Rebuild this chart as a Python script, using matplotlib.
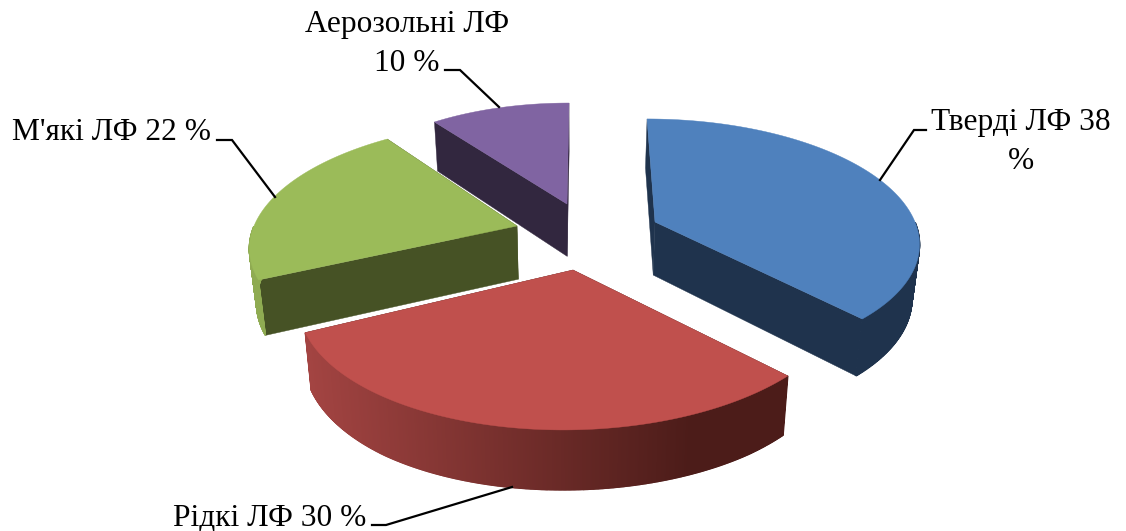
import numpy as np
import matplotlib
matplotlib.use('Agg')
import matplotlib.pyplot as plt
from matplotlib.colors import to_rgb

# shares in the order they go round the pie, clockwise from the top
labels = ["Тверді ЛФ 38\n%", "Рідкі ЛФ 30 %", "М'які ЛФ 22 %", "Аерозольні ЛФ\n10 %"]
shares = [38, 30, 22, 10]

top_colors = ['#4F81BD', '#C0504D', '#9BBB59', '#8064A2']
cut_colors = ['#1F334D', '#4F1F1C', '#465225', '#32273F']
rim_left = ['#1F334D', '#A34442', '#8FAB52', '#32273F']
rim_right = ['#1F334D', '#4C1C19', '#8FAB52', '#32273F']

# apex position in pixels and the projection of each exploded slice
apex_x = [655, 573, 517, 567]
apex_y = [222, 270, 226, 204]
rad_x = [260, 268, 263, 232]
rad_y = [118.5, 126, 119.4, 103]
persp = [0.15, 0.212, 0.137, 0.02]
skew = [0.077, -0.02, -0.108, -0.02]
tilt = [0, -4, 0, 0]
center_x = 575


def ring(i, theta):
    # point on the upper rim of slice i, theta in degrees clockwise from top
    t = np.radians(theta)
    X = np.sin(t)
    Y = -np.cos(t)
    w = 1 - persp[i] * Y
    dy = rad_y[i] * Y / w
    x = apex_x[i] + rad_x[i] * X / w + skew[i] * dy
    return x, apex_y[i] + dy + tilt[i] * X


def drop(x, y):
    # same point moved down to the lower face of the pie
    d = np.minimum(49 + 0.04 * (y - 120), 60)
    return center_x + (x - center_x) * 0.978, y + d


fig = plt.figure(figsize=(11.26, 5.31), dpi=100)
ax = fig.add_axes([0, 0, 1, 1])
ax.set_xlim(0, 1126)
ax.set_ylim(531, 0)
ax.axis('off')

edges = np.cumsum([0] + shares) * 3.6
order = [3, 2, 0, 1]
for z, i in enumerate(order):
    th = np.linspace(edges[i], edges[i + 1], 500)
    x, y = ring(i, th)
    xb, yb = drop(x, y)
    ax0, ay0 = apex_x[i], apex_y[i]
    bx0, by0 = drop(np.array(float(ax0)), np.array(float(ay0)))

    # white halo round the whole slice
    ax.fill(np.r_[ax0, x, xb[::-1], bx0], np.r_[ay0, y, yb[::-1], by0],
            color='white', lw=2, zorder=z + 1)

    # the two cut faces
    for k in [0, -1]:
        ax.fill([ax0, x[k], xb[k], bx0], [ay0, y[k], yb[k], by0],
                color=cut_colors[i], lw=0.3, zorder=z + 1)

    # curved wall, only the part turned to the viewer
    front = -np.cos(np.radians(th)) >= 0
    idx = np.where(front)[0]
    c0 = np.array(to_rgb(rim_left[i]))
    c1 = np.array(to_rgb(rim_right[i]))
    for j in idx[:-1]:
        f = np.clip((x[j] - x.min()) / (0.8 * (x.max() - x.min())), 0, 1)
        ax.fill([x[j], x[j + 1], xb[j + 1], xb[j]], [y[j], y[j + 1], yb[j + 1], yb[j]],
                color=c0 + (c1 - c0) * f, lw=1.0, zorder=z + 1)

    ax.fill(np.r_[ax0, x], np.r_[ay0, y], color=top_colors[i], lw=0.3, zorder=z + 1)

# leader lines
lead_x = [[880, 914, 926], [512, 386, 372], [275, 232, 217], [499, 460, 445]]
lead_y = [[180, 130, 130], [487, 525, 525], [197, 140, 140], [107, 70, 70]]
for lx, ly in zip(lead_x, lead_y):
    ax.plot(lx, ly, color='black', lw=1.6, zorder=10, solid_joinstyle='miter')

text_x = [1021, 270, 112, 407]
text_y = [142, 518, 133, 44]
for s, tx, ty in zip(labels, text_x, text_y):
    ax.text(tx, ty, s, ha='center', va='center', family='Liberation Serif',
            fontsize=22.6, linespacing=1.42, zorder=11)

fig.savefig('out.png', dpi=100)
